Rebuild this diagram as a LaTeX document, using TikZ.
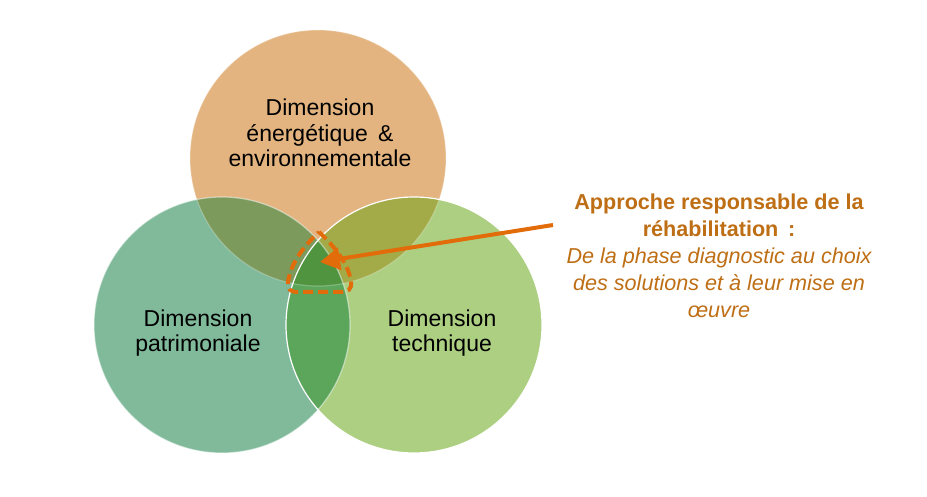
\documentclass[tikz,border=0pt]{standalone}
\usepackage{fontspec}
\setmainfont{Liberation Sans}
\usetikzlibrary{arrows.meta}
\definecolor{cTop}{RGB}{227,180,127}
\definecolor{cLeft}{RGB}{128,186,155}
\definecolor{cRight}{RGB}{173,207,130}
\definecolor{cTL}{RGB}{124,154,92}
\definecolor{cTR}{RGB}{163,170,72}
\definecolor{cLR}{RGB}{92,166,92}
\definecolor{cAll}{RGB}{80,148,64}
\definecolor{accent}{RGB}{227,108,10}
\definecolor{labeltext}{RGB}{190,110,20}
\tikzset{
  circtext/.style={align=center, text=black, font=\fontsize{23}{25.5}\selectfont, inner sep=0pt},
  notetext/.style={align=center, text=labeltext, inner sep=0pt, font=\fontsize{21.6}{27}\selectfont},
  rim/.style={draw=white, line width=1.2pt},
}
\begin{document}
\begin{tikzpicture}[x=1pt,y=-1pt]
\useasboundingbox (0,0) rectangle (927,497);
\def\R{128}
\coordinate (ct) at (318,158);
\coordinate (cl) at (222,325);
\coordinate (cr) at (414,325);
% base fills
\fill[cTop] (ct) circle (\R);
\fill[cLeft] (cl) circle (\R);
\fill[cRight] (cr) circle (\R);
% pairwise overlaps
\begin{scope}
  \clip (ct) circle (\R);
  \fill[cTL] (cl) circle (\R);
\end{scope}
\begin{scope}
  \clip (ct) circle (\R);
  \fill[cTR] (cr) circle (\R);
\end{scope}
\begin{scope}
  \clip (cl) circle (\R);
  \fill[cLR] (cr) circle (\R);
\end{scope}
\begin{scope}
  \clip (ct) circle (\R);
  \clip (cl) circle (\R);
  \fill[cAll] (cr) circle (\R);
\end{scope}
% rims
\draw[rim, opacity=0.25] (ct) circle (\R);
\draw[rim, opacity=0.5] (cl) circle (\R);
\draw[rim] (cr) circle (\R);
% labels in circles
\node[circtext] (ttop) at (320,133) {Dimension\\énergétique \,\&\\environnementale};
\node[circtext] (tleft) at (198,333) {Dimension\\patrimoniale};
\node[circtext] (tright) at (442,333) {Dimension\\technique};
% note
\node[notetext] (note) at (719,256) {\bfseries Approche responsable de la\\\bfseries réhabilitation \,:\\\mdseries\itshape De la phase diagnostic au choix\\\mdseries\itshape des solutions et à leur mise en\\\mdseries\itshape œuvre};
% dashed highlight
\draw[accent, line width=4pt, dash pattern=on 10pt off 5pt]
  (319,232) .. controls (334,246) and (348,263) .. (351,281)
  .. controls (352,290) and (348,292) .. (340,292)
  -- (298,292)
  .. controls (290,292) and (287,289) .. (288,282)
  .. controls (291,262) and (305,245) .. (319,232);
% arrow
\coordinate (astart) at (553,225);
\coordinate (atip) at (320,262);
\draw[accent, line width=4pt, -{Triangle[length=20pt,width=22pt]}] (astart) -- (atip);
\end{tikzpicture}
\end{document}
